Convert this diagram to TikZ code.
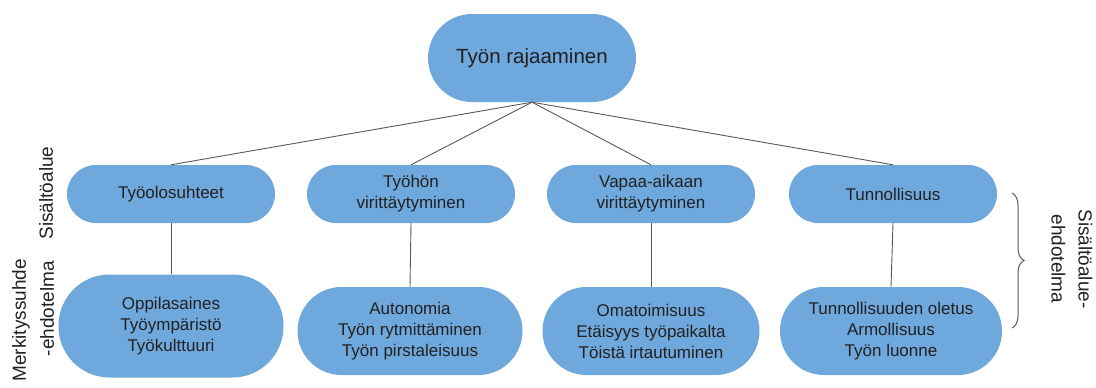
\documentclass[tikz,border=0pt]{standalone}
\usepackage{fontspec}
\setmainfont{Liberation Sans}
\usetikzlibrary{decorations.pathreplacing}
\definecolor{boxblue}{HTML}{6FA8DC}
\definecolor{txt}{HTML}{212121}
\definecolor{linegray}{HTML}{595959}
\tikzset{
  box/.style={fill=boxblue, draw=none, text=txt, align=center, inner sep=0pt,
    font=\fontsize{17}{21}\selectfont},
  conn/.style={draw=linegray, line width=0.9pt},
  sidelabel/.style={text=txt, align=center, inner sep=0pt, font=\fontsize{19}{27}\selectfont}
}
\begin{document}
\begin{tikzpicture}[x=1pt,y=1pt]
\useasboundingbox (0,0) rectangle (1096,-388);
% top
\node[box, minimum width=208pt, minimum height=88pt, rounded corners=44pt,
  font=\fontsize{20.5}{24}\selectfont] (top) at (532,-58) {Työn rajaaminen};
% row 1
\node[box, minimum width=208pt, minimum height=58pt, rounded corners=29pt] (a1) at (171,-194) {Työolosuhteet};
\node[box, minimum width=208pt, minimum height=58pt, rounded corners=29pt] (a2) at (411,-194) {Työhön\\virittäytyminen};
\node[box, minimum width=208pt, minimum height=58pt, rounded corners=29pt] (a3) at (651,-194) {Vapaa-aikaan\\virittäytyminen};
\node[box, minimum width=208pt, minimum height=58pt, rounded corners=29pt] (a4) at (893,-194) {Tunnollisuus};
% row 2
\node[box, minimum width=225pt, minimum height=103pt, rounded corners=51pt] (b1) at (171,-326) {Oppilasaines\\Työympäristö\\Työkulttuuri};
\node[box, minimum width=225pt, minimum height=88pt, rounded corners=44pt] (b2) at (410,-331) {Autonomia\\Työn rytmittäminen\\Työn pirstaleisuus};
\node[box, minimum width=217pt, minimum height=88pt, rounded corners=44pt] (b3) at (651,-331) {Omatoimisuus\\Etäisyys työpaikalta\\Töistä irtautuminen};
\node[box, minimum width=222pt, minimum height=88pt, rounded corners=44pt] (b4) at (891,-331) {Tunnollisuuden oletus\\Armollisuus\\Työn luonne};
% connectors
\foreach \i in {1,2,3,4} {
  \draw[conn] (top.south) -- (a\i.north);
  \draw[conn] (a\i.south) -- (b\i.north);
}
% left labels
\node[sidelabel, rotate=90] (lsis) at (46,-193) {Sisältöalue};
\node[sidelabel, rotate=90, anchor=east] (lmer) at (21,-259) {Merkityssuhde};
\node[sidelabel, rotate=90, anchor=east] (lehd) at (47,-261) {-ehdotelma};
% right brace and label
\coordinate (bt) at (1012,-193);
\coordinate (bb) at (1012,-328);
\draw[draw=linegray, line width=1pt, decorate, decoration={brace, amplitude=12pt}] (bt) -- (bb);
\node[sidelabel, rotate=-90] (rlab) at (1072,-259) {Sisältöalue-\\ehdotelma};
\end{tikzpicture}
\end{document}
